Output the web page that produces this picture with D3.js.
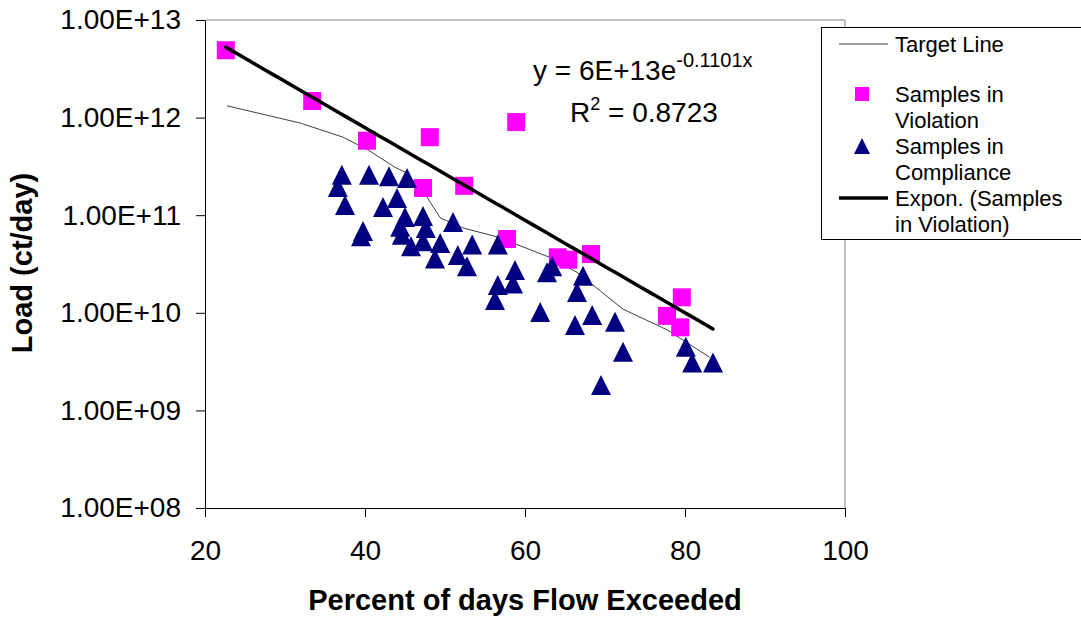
<!DOCTYPE html>
<html>
<head>
<meta charset="utf-8">
<script src="https://cdn.jsdelivr.net/npm/d3@7"></script>
<style>
  body { margin: 0; background: #fff; }
  svg { display: block; }
  text { font-family: Arial, "Liberation Sans", sans-serif; fill: #000; }
</style>
</head>
<body>
<div id="chart-area"></div>
<script>
// Samples in violation (percent of days flow exceeded, load ct/day)
const violationX = [22.6, 33.4, 40.25, 48.1, 47.25, 52.4, 58.9, 57.75, 64.1, 65.4, 68.25, 77.75, 79.4, 79.6];
const violationY = [4.9e12, 1.48e12, 5.8e11, 6.3e11, 1.9e11, 2.0e11, 9.0e11, 5.7e10, 3.7e10, 3.5e10, 4.0e10, 9.3e9, 7.1e9, 1.44e10];

// Samples in compliance
const complianceX = [36.6, 37.1, 37.5, 39.5, 39.75, 40.5, 42.25, 43.0, 44.0, 45.25, 45.0, 44.4, 44.6, 45.75,
  47.25, 47.6, 47.25, 49.4, 48.75, 51.0, 51.6, 53.4, 52.75, 56.6, 58.75, 56.6, 58.5, 56.25,
  62.75, 63.4, 67.25, 66.5, 61.9, 68.4, 66.25, 71.25, 72.25, 69.5, 80.1, 80.9, 83.5];
const complianceY = [1.95e11, 2.6e11, 1.27e11, 6.1e10, 6.9e10, 2.6e11, 1.21e11, 2.5e11, 1.5e11, 2.4e11, 9.6e10, 7.6e10, 6.3e10, 4.8e10,
  9.8e10, 7.4e10, 5.4e10, 5.2e10, 3.6e10, 8.5e10, 3.9e10, 5.0e10, 3.0e10, 5.0e10, 2.75e10, 1.93e10, 2.0e10, 1.35e10,
  2.6e10, 3.0e10, 2.4e10, 1.63e10, 1.02e10, 9.5e9, 7.5e9, 8.1e9, 4.0e9, 1.82e9, 4.5e9, 3.1e9, 3.1e9];

// Target line
const targetX = [22.75, 31.9, 37.25, 40.4, 43.75, 45.25, 47.75, 49.4, 52.25, 56.5, 59.0, 63.1, 66.5, 72.25, 77.75, 83.1];
const targetY = [1.32e12, 8.8e11, 6.3e11, 4.65e11, 3.1e11, 2.7e11, 1.53e11, 9.4e10, 7.4e10, 6.0e10, 5.0e10, 3.7e10, 2.6e10, 1.09e10, 6.7e9, 3.5e9];

const xTicks = [20, 40, 60, 80, 100];
const yTicks = [1e8, 1e9, 1e10, 1e11, 1e12, 1e13];

const margin = {left: 205, right: 236, top: 20, bottom: 112};
const width = 1081 - margin.left - margin.right;
const height = 620 - margin.top - margin.bottom;

const svg = d3.select('#chart-area')
  .append('svg')
  .attr('width', 1081)
  .attr('height', 620);

const g = svg.append('g')
  .attr('transform', `translate(${margin.left}, ${margin.top})`);

const x = d3.scaleLinear().domain([20, 100]).range([0, width]);
const y = d3.scaleLog().domain([1e8, 1e13]).range([height, 0]);

// plot frame (top / right in grey)
g.append('line')
  .attr('x1', 0).attr('x2', width).attr('y1', 0).attr('y2', 0)
  .attr('stroke', '#808080');
g.append('line')
  .attr('x1', width).attr('x2', width).attr('y1', 0).attr('y2', height)
  .attr('stroke', '#808080');

// axes
const fmtE = d => '1.00E+' + String(Math.round(Math.log10(d))).padStart(2, '0');

const yAxis = g.append('g')
  .call(d3.axisLeft(y).tickValues(yTicks).tickFormat(fmtE).tickSize(9).tickSizeOuter(0).tickPadding(15));
const xAxis = g.append('g')
  .attr('transform', `translate(0, ${height})`)
  .call(d3.axisBottom(x).tickValues(xTicks).tickFormat(d3.format('d')).tickSize(9).tickSizeOuter(0).tickPadding(23));

[yAxis, xAxis].forEach(a => {
  a.select('.domain').attr('stroke', '#000');
  a.selectAll('.tick line').attr('stroke', '#000');
  a.selectAll('.tick text')
    .attr('font-size', '28px')
    .attr('font-family', 'Arial, "Liberation Sans", sans-serif');
});

// target line
const target = targetX.map((v, i) => ({x: v, y: targetY[i]}));
g.append('path')
  .datum(target)
  .attr('fill', 'none')
  .attr('stroke', '#404040')
  .attr('stroke-width', 1)
  .attr('d', d3.line().x(d => x(d.x)).y(d => y(d.y)));

// samples in violation
const violation = violationX.map((v, i) => ({x: v, y: violationY[i]}));
g.selectAll('rect.viol')
  .data(violation)
  .enter()
  .append('rect')
  .attr('class', 'viol')
  .attr('x', d => x(d.x) - 9)
  .attr('y', d => y(d.y) - 9)
  .attr('width', 18)
  .attr('height', 18)
  .attr('fill', '#ff00ff');

// samples in compliance
const triangle = {
  draw(ctx, size) {
    const w = Math.sqrt(size);
    ctx.moveTo(0, -w / 2);
    ctx.lineTo(w / 2, w / 2);
    ctx.lineTo(-w / 2, w / 2);
    ctx.closePath();
  }
};
const compliance = complianceX.map((v, i) => ({x: v, y: complianceY[i]}));
g.selectAll('path.comp')
  .data(compliance)
  .enter()
  .append('path')
  .attr('class', 'comp')
  .attr('transform', d => `translate(${x(d.x)}, ${y(d.y)})`)
  .attr('d', d3.symbol(triangle, 400))
  .attr('fill', '#000080');

// exponential trendline fitted to the violation samples
const mx = d3.mean(violation, d => d.x);
const my = d3.mean(violation, d => Math.log(d.y));
const b = d3.sum(violation, d => (d.x - mx) * (Math.log(d.y) - my)) /
          d3.sum(violation, d => (d.x - mx) ** 2);
const a = Math.exp(my - b * mx);
const x0 = d3.min(violationX);
const x1 = d3.max(complianceX.concat(targetX, violationX));
const trend = d3.range(0, 61).map(i => {
  const xv = x0 + (x1 - x0) * i / 60;
  return {x: xv, y: a * Math.exp(b * xv)};
});
g.append('path')
  .datum(trend)
  .attr('fill', 'none')
  .attr('stroke', '#000')
  .attr('stroke-width', 3.5)
  .attr('stroke-linecap', 'round')
  .attr('d', d3.line().x(d => x(d.x)).y(d => y(d.y)));

// equation
const eq = svg.append('text')
  .attr('x', 533).attr('y', 80)
  .attr('font-size', '28px');
eq.append('tspan').text('y = 6E+13e');
eq.append('tspan').attr('font-size', '20px').attr('dy', -13).text('-0.1101x');

const r2 = svg.append('text')
  .attr('x', 570).attr('y', 122)
  .attr('font-size', '28px');
r2.append('tspan').text('R');
r2.append('tspan').attr('font-size', '18px').attr('dy', -12).text('2');
r2.append('tspan').attr('dy', 12).text(' = 0.8723');

// axis titles
svg.append('text')
  .attr('x', margin.left + width / 2)
  .attr('y', 610)
  .attr('text-anchor', 'middle')
  .attr('font-size', '29px')
  .attr('font-weight', 'bold')
  .text('Percent of days Flow Exceeded');

svg.append('text')
  .attr('transform', 'translate(32, 263) rotate(-90)')
  .attr('text-anchor', 'middle')
  .attr('font-size', '29px')
  .attr('font-weight', 'bold')
  .text('Load (ct/day)');

// legend
const legend = svg.append('g');
legend.append('rect')
  .attr('x', 821.5).attr('y', 27.5)
  .attr('width', 270).attr('height', 212)
  .attr('fill', '#fff')
  .attr('stroke', '#000');

const legendItems = [
  {lines: ['Target Line'], y: 44, kind: 'thin'},
  {lines: ['Samples in', 'Violation'], y: 94, kind: 'square'},
  {lines: ['Samples in', 'Compliance'], y: 146, kind: 'triangle'},
  {lines: ['Expon. (Samples', 'in Violation)'], y: 198, kind: 'thick'}
];

legendItems.forEach(item => {
  if (item.kind === 'thin' || item.kind === 'thick') {
    legend.append('line')
      .attr('x1', 839).attr('x2', 888)
      .attr('y1', item.y).attr('y2', item.y)
      .attr('stroke', item.kind === 'thin' ? '#404040' : '#000')
      .attr('stroke-width', item.kind === 'thin' ? 1 : 3.5);
  } else if (item.kind === 'square') {
    legend.append('rect')
      .attr('x', 855).attr('y', item.y - 7)
      .attr('width', 14).attr('height', 14)
      .attr('fill', '#ff00ff');
  } else {
    legend.append('path')
      .attr('transform', `translate(862, ${item.y})`)
      .attr('d', d3.symbol(triangle, 256))
      .attr('fill', '#000080');
  }
  item.lines.forEach((t, i) => {
    legend.append('text')
      .attr('x', 895)
      .attr('y', item.y + 8 + i * 26)
      .attr('font-size', '22px')
      .text(t);
  });
});
</script>
</body>
</html>
